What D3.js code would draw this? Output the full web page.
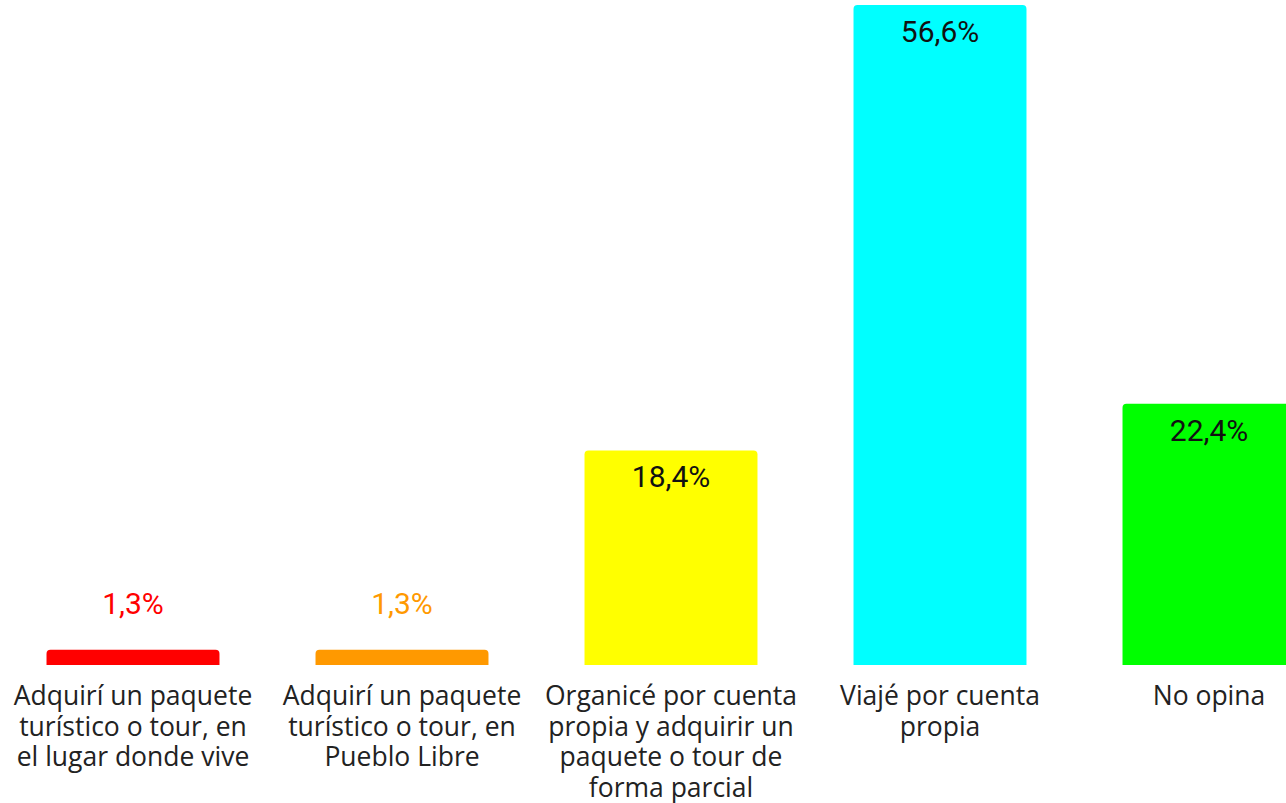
<!DOCTYPE html>
<html>
<head>
<meta charset="utf-8">
<script src="https://cdn.jsdelivr.net/npm/d3@7"></script>
<style>
  html, body { margin: 0; padding: 0; background: #fff; overflow: hidden; }
  svg { display: block; }
</style>
</head>
<body>
<div id="chart"></div>
<script>
// datos del gráfico
const categories = [
  "Adquirí un paquete\nturístico o tour, en\nel lugar donde vive",
  "Adquirí un paquete\nturístico o tour, en\nPueblo Libre",
  "Organicé por cuenta\npropia y adquirir un\npaquete o tour de\nforma parcial",
  "Viajé por cuenta\npropia",
  "No opina"
];
const values = [1.3, 1.3, 18.4, 56.6, 22.4];
const barColors = ["#ff0000", "#ff9900", "#ffff00", "#00ffff", "#00ff00"];

const width = 1286;
const height = 803;
const baseY = 665; // línea base de las barras
const topY = 5;    // tope de la barra más alta

const svg = d3.select("#chart")
  .append("svg")
  .attr("width", width)
  .attr("height", height);

// el gráfico original se corta por la derecha
const x = d3.scaleBand()
  .domain(d3.range(values.length))
  .range([-1.5, 1343.5])
  .paddingInner(0.357)
  .paddingOuter(0.1785);

const y = d3.scaleLinear()
  .domain([0, d3.max(values)])
  .range([baseY, topY]);

// barra con esquinas superiores redondeadas
function barPath(x0, y0, w, h, r) {
  r = Math.min(r, h, w / 2);
  return `M${x0},${y0 + h}V${y0 + r}Q${x0},${y0} ${x0 + r},${y0}` +
    `H${x0 + w - r}Q${x0 + w},${y0} ${x0 + w},${y0 + r}V${y0 + h}Z`;
}

svg.selectAll(".bar")
  .data(values)
  .enter()
  .append("path")
  .attr("class", "bar")
  .attr("fill", (d, i) => barColors[i])
  .attr("d", (d, i) => barPath(x(i), y(d), x.bandwidth(), baseY - y(d), 4));

// etiquetas de valor: dentro de la barra si cabe, encima si no
svg.selectAll(".val")
  .data(values)
  .enter()
  .append("text")
  .attr("class", "val")
  .attr("x", (d, i) => x(i) + x.bandwidth() / 2)
  .attr("y", d => (baseY - y(d) > 60) ? y(d) + 37 : y(d) - 36)
  .attr("text-anchor", "middle")
  .attr("font-family", "Roboto, sans-serif")
  .attr("font-size", 30)
  .attr("fill", (d, i) => (baseY - y(d) > 60) ? "#111" : barColors[i])
  .text(d => d3.format(".1f")(d).replace(".", ",") + "%");

// etiquetas de categoría
const cat = svg.selectAll(".cat")
  .data(categories)
  .enter()
  .append("text")
  .attr("class", "cat")
  .attr("text-anchor", "middle")
  .attr("font-family", "'Open Sans', sans-serif")
  .attr("font-size", 26.5)
  .attr("fill", "#222");

cat.each(function(d, i) {
  const t = d3.select(this);
  d.split("\n").forEach((line, k) => {
    t.append("tspan")
      .attr("x", x(i) + x.bandwidth() / 2)
      .attr("y", 705 + k * 30.5)
      .text(line);
  });
});
</script>
</body>
</html>
